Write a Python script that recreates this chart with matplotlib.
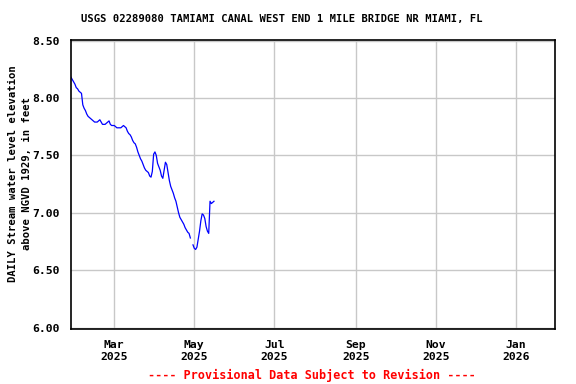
import matplotlib
matplotlib.use("Agg")
import matplotlib.pyplot as plt
import numpy as np
import datetime as dt

# daily values, starting 2025-01-27 (nan = missing day)
start_date = dt.date(2025, 1, 27)
stage_ft = [
    8.18, 8.16, 8.14, 8.12, 8.09, 8.08, 8.06, 8.05, 8.04, 7.94,
    7.91, 7.89, 7.86, 7.84, 7.83, 7.82, 7.81, 7.80, 7.79, 7.79,
    7.79, 7.80, 7.81, 7.79, 7.77, 7.77, 7.77, 7.78, 7.79, 7.80,
    7.77, 7.76, 7.76, 7.76, 7.75, 7.74, 7.74, 7.74, 7.74, 7.75,
    7.76, 7.75, 7.74, 7.71, 7.69, 7.68, 7.66, 7.63, 7.61, 7.60,
    7.57, 7.53, 7.50, 7.47, 7.45, 7.42, 7.39, 7.37, 7.36, 7.35,
    7.32, 7.31, 7.36, 7.51, 7.53, 7.50, 7.43, 7.40, 7.37, 7.32,
    7.30, 7.37, 7.44, 7.42, 7.35, 7.28, 7.23, 7.20, 7.17, 7.13,
    7.10, 7.05, 7.00, 6.96, 6.94, 6.92, 6.90, 6.87, 6.85, 6.83,
    6.82, 6.78, np.nan, 6.72, 6.69, 6.68, 6.70, 6.77, 6.84, 6.93,
    6.99, 6.98, 6.95, 6.88, 6.84, 6.82, 7.10, 7.08, 7.09, 7.10,
]
dates = [start_date + dt.timedelta(days=i) for i in range(len(stage_ft))]

y_ticks = [6.00, 6.50, 7.00, 7.50, 8.00, 8.50]
x_ticks = [dt.date(2025, 3, 1), dt.date(2025, 5, 1), dt.date(2025, 7, 1),
           dt.date(2025, 9, 1), dt.date(2025, 11, 1), dt.date(2026, 1, 1)]

title = "USGS 02289080 TAMIAMI CANAL WEST END 1 MILE BRIDGE NR MIAMI, FL"
ylabel = "DAILY Stream water level elevation\nabove NGVD 1929, in feet"
footer = "---- Provisional Data Subject to Revision ----"

small = {"family": "DejaVu Sans Mono", "weight": "bold", "size": 7.6}
big = {"family": "DejaVu Sans Mono", "weight": "bold", "size": 8.2}
foot = {"family": "DejaVu Sans Mono", "weight": "bold", "size": 8.5}

fig = plt.figure(figsize=(5.76, 3.84), dpi=100)
ax = fig.add_axes([71 / 576, 1 - 329 / 384, (555 - 71) / 576, (329 - 40) / 384])

ax.plot(dates, stage_ft, color="#0000ff", lw=0.9)

ax.set_xlim(dt.date(2025, 1, 27), dt.date(2026, 1, 31))
ax.set_ylim(5.987, 8.505)
ax.set_yticks(y_ticks)
ax.set_yticklabels(["%.2f" % v for v in y_ticks], fontdict=big)
ax.set_xticks(x_ticks)
ax.set_xticklabels([d.strftime("%b\n%Y") for d in x_ticks], fontdict=big,
                   linespacing=1.25)
ax.tick_params(length=0, pad=8)
ax.tick_params(axis="x", pad=8)
ax.grid(True, color="#c8c8c8", lw=1)
ax.set_axisbelow(True)
for s in ax.spines.values():
    s.set_linewidth(1.2)

fig.text(282 / 576, 1 - 19 / 384, title, ha="center", va="center", fontdict=small)
fig.text(20 / 576, 1 - 174 / 384, ylabel, ha="center", va="center",
         rotation=90, fontdict=small, linespacing=1.6)
fig.text(312 / 576, 1 - 375 / 384, footer, ha="center", va="center",
         color="red", fontdict=foot)

fig.savefig("out.png", dpi=100)
